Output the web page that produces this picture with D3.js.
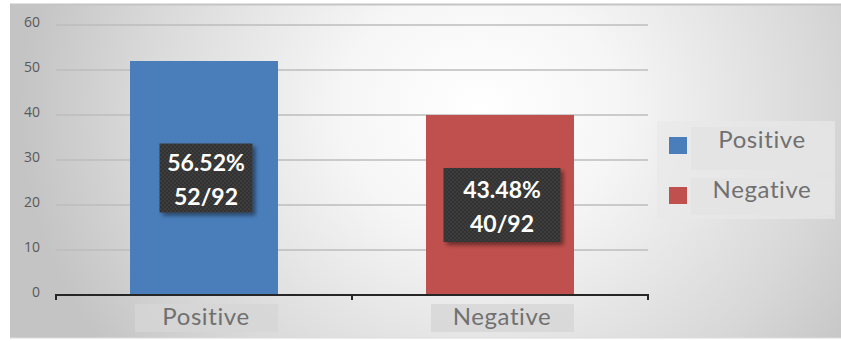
<!DOCTYPE html>
<html><head><meta charset="utf-8">
<script src="https://cdn.jsdelivr.net/npm/d3@7"></script>
<style>body{margin:0;background:#fff}svg{display:block}</style>
</head><body>
<svg id="c" width="841" height="341"></svg>
<script>
const categories = ["Positive", "Negative"];
const values = [52, 40];
const total = 92;
const percentLabels = ["56.52%", "43.48%"];
const yTicks = [0, 10, 20, 30, 40, 50, 60];
const colors = ["#4a7ebb", "#c0504d"];

const svg = d3.select("#c");
const defs = svg.append("defs");
const rg = defs.append("radialGradient").attr("id","bg").attr("gradientUnits","userSpaceOnUse")
  .attr("cx",480).attr("cy",110).attr("r",460).attr("fx",480).attr("fy",110)
  .attr("gradientTransform","translate(480,110) scale(1,0.9) translate(-480,-110)");
rg.append("stop").attr("offset","0").attr("stop-color","#ffffff");
rg.append("stop").attr("offset","0.3").attr("stop-color","#f6f6f6");
rg.append("stop").attr("offset","0.75").attr("stop-color","#d8d8d8");
rg.append("stop").attr("offset","1").attr("stop-color","#c4c4c4");
const pat = defs.append("pattern").attr("id","dots").attr("width",4).attr("height",4).attr("patternUnits","userSpaceOnUse");
pat.append("rect").attr("width",4).attr("height",4).attr("fill","#333333");
pat.append("rect").attr("width",2).attr("height",2).attr("fill","#3d3d3d");
pat.append("rect").attr("x",2).attr("y",2).attr("width",2).attr("height",2).attr("fill","#3d3d3d");
const sh = defs.append("filter").attr("id","sh").attr("x","-20%").attr("y","-20%").attr("width","150%").attr("height","150%");
sh.append("feDropShadow").attr("dx",3).attr("dy",3).attr("stdDeviation",2).attr("flood-color","#000").attr("flood-opacity",0.45);

// background panel
svg.append("rect").attr("x",10).attr("y",4).attr("width",840).attr("height",334).attr("fill","url(#bg)");
svg.append("line").attr("x1",10).attr("x2",841).attr("y1",4.5).attr("y2",4.5).attr("stroke","#c4c4c4").attr("stroke-width",2);
svg.append("line").attr("x1",10).attr("x2",841).attr("y1",338).attr("y2",338).attr("stroke","#dcdcdc").attr("stroke-width",1);

const x = d3.scaleBand().domain(categories).range([56, 648]).paddingInner(0.5).paddingOuter(0.25);
const y = d3.scaleLinear().domain([0, 60]).range([295, 25]);

// gridlines
svg.append("g").selectAll("line").data(yTicks.filter(d=>d>0)).join("line")
  .attr("x1",56).attr("x2",648).attr("y1",d=>y(d)).attr("y2",d=>y(d))
  .attr("stroke","#bdbdbd").attr("stroke-width",1.5);

// y axis labels
const yAxis = d3.axisLeft(y).tickValues(yTicks).tickSize(0).tickPadding(0);
const ya = svg.append("g").attr("transform","translate(40,0)").call(yAxis);
ya.select(".domain").remove();
ya.selectAll("text").attr("font-family","'Open Sans', sans-serif").attr("font-size",14).attr("fill","#595959").attr("dy","0.1em");

// bars
svg.append("g").selectAll("rect").data(values).join("rect")
  .attr("x",(d,i)=>x(categories[i])).attr("width",x.bandwidth())
  .attr("y",d=>y(d)).attr("height",d=>y(0)-y(d))
  .attr("fill",(d,i)=>colors[i]);

// x axis
const xAxis = d3.axisBottom(x).tickSize(0).tickFormat("");
const xa = svg.append("g").attr("transform",`translate(0,${y(0)})`).call(xAxis);
xa.select(".domain").remove();
svg.append("line").attr("x1",56).attr("x2",648).attr("y1",y(0)).attr("y2",y(0)).attr("stroke","#262626").attr("stroke-width",2);
const tickXs = [56, (x(categories[0])+x.bandwidth()+x(categories[1]))/2, 648];
svg.append("g").selectAll("line").data(tickXs).join("line")
  .attr("x1",d=>d).attr("x2",d=>d).attr("y1",y(0)-1).attr("y2",y(0)+5)
  .attr("stroke","#262626").attr("stroke-width",2);

// category labels with boxes
const cl = svg.append("g").selectAll("g").data(categories).join("g")
  .attr("transform",d=>`translate(${x(d)+x.bandwidth()/2+2},0)`);
cl.append("rect").attr("x",-71).attr("y",304).attr("width",143).attr("height",28).attr("fill","#d6d6d6").attr("opacity",0.8);
cl.append("text").attr("y",325).attr("text-anchor","middle").attr("font-family","Lato, sans-serif").attr("font-size",24)
  .attr("letter-spacing",0.6).attr("fill","#707070").text(d=>d);

// data labels
const boxW = [93, 117], boxH = [69, 74];
const dl = svg.append("g").selectAll("g").data(values).join("g")
  .attr("transform",(d,i)=>`translate(${x(categories[i])+x.bandwidth()/2+2},${y(d/2)})`);
dl.append("rect").attr("x",(d,i)=>-boxW[i]/2).attr("y",(d,i)=>-boxH[i]/2).attr("width",(d,i)=>boxW[i]).attr("height",(d,i)=>boxH[i])
  .attr("fill","url(#dots)").attr("filter","url(#sh)");
dl.append("text").attr("text-anchor","middle").attr("y",-7).attr("font-family","Lato, sans-serif").attr("font-weight","bold")
  .attr("font-size",23).attr("fill","#fff").text((d,i)=>percentLabels[i]);
dl.append("text").attr("text-anchor","middle").attr("y",27).attr("font-family","Lato, sans-serif").attr("font-weight","bold")
  .attr("font-size",23).attr("fill","#fff").text(d=>`${d}/${total}`);

// legend
const lg = svg.append("g");
lg.append("rect").attr("x",657).attr("y",121).attr("width",178).attr("height",98).attr("fill","#e8e8e8").attr("opacity",0.7);
const li = lg.selectAll("g").data(categories).join("g").attr("transform",(d,i)=>`translate(0,${i*50})`);
li.append("rect").attr("x",691).attr("y",(d,i)=>127 + i*1).attr("width",142).attr("height",(d,i)=>i?37:43).attr("fill","#e4e4e4");
li.append("rect").attr("x",669).attr("y",137).attr("width",18).attr("height",17).attr("fill",(d,i)=>colors[i]);
li.append("text").attr("x",762).attr("y",148).attr("text-anchor","middle").attr("font-family","Lato, sans-serif").attr("font-size",24)
  .attr("letter-spacing",0.6).attr("fill","#707070").text(d=>d);
</script>
</body></html>
